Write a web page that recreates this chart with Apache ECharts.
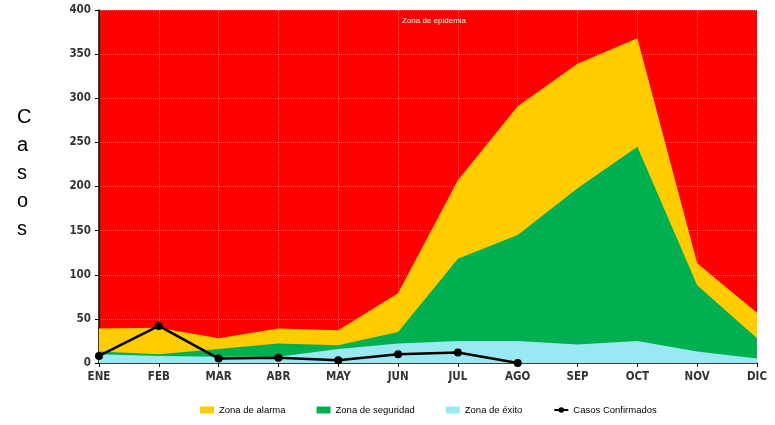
<!DOCTYPE html>
<html><head><meta charset="utf-8">
<script src="https://cdn.jsdelivr.net/npm/echarts@6/dist/echarts.min.js"></script>
<style>html,body{margin:0;padding:0;background:#fff}#c{width:775px;height:425px}</style>
</head><body><div id="c"></div>
<script>
var months = ['ENE','FEB','MAR','ABR','MAY','JUN','JUL','AGO','SEP','OCT','NOV','DIC'];
// Upper boundary of each zone (cumulative)
var zonaAlarma    = [39, 40, 28, 39, 37, 79, 207, 291, 339, 368, 113, 57];
var zonaSeguridad = [13, 10, 16, 22, 20, 35, 118, 145, 198, 245, 88, 28];
var zonaExito     = [10, 8, 7, 7, 16, 22, 25, 25, 21, 25, 13, 5];
var casosConfirmados = [8, 42, 5, 6, 3, 10, 12, 0, null, null, null, null];
var yTicks = [0, 50, 100, 150, 200, 250, 300, 350, 400];

var font = "'DejaVu Sans Condensed', 'Liberation Sans Narrow', 'Liberation Sans', Arial, sans-serif";
var chart = echarts.init(document.getElementById('c'));
chart.setOption({
  animation: false,
  grid: {left: 99, right: 18, top: 10, bottom: 62, show: true, backgroundColor: '#FF0000', borderWidth: 0},
  legend: {
    bottom: 5, left: 195, itemGap: 31, itemWidth: 14, itemHeight: 7, itemTextGap: 2,
    textStyle: {fontFamily: "'Liberation Sans', Arial, sans-serif", fontSize: 9.5, color: '#000'},
    data: [
      {name: 'Zona de alarma', icon: 'rect'},
      {name: 'Zona de seguridad', icon: 'rect'},
      {name: 'Zona de éxito', icon: 'rect'},
      {name: 'Casos Confirmados'}
    ]
  },
  graphic: [
    {type: 'text', left: 17, top: 103, style: {text: 'C\na\ns\no\ns', font: '20px ' + "'Liberation Sans', Arial, sans-serif", lineHeight: 28, fill: '#000', align: 'center'}},
    {type: 'text', left: 402, top: 17, style: {text: 'Zona de epidemia', font: '8px ' + "'Liberation Sans', Arial, sans-serif", fill: '#fff'}}
  ],
  xAxis: {
    type: 'category', data: months, boundaryGap: false,
    axisLine: {lineStyle: {color: '#000', width: 1.5}},
    axisTick: {show: true, length: 4, lineStyle: {color: '#000'}},
    axisLabel: {color: '#333', fontFamily: font, fontWeight: 'bold', fontSize: 11.5, margin: 8},
    splitLine: {show: true, lineStyle: {color: 'rgba(255,255,255,0.35)', type: 'dotted', width: 1}}
  },
  yAxis: {
    type: 'value', min: yTicks[0], max: yTicks[yTicks.length-1], interval: 50,
    axisLine: {show: true, lineStyle: {color: '#000', width: 1.5}},
    axisTick: {show: true, length: 4, lineStyle: {color: '#000'}},
    axisLabel: {color: '#333', fontFamily: font, fontWeight: 'bold', fontSize: 11.5, margin: 8},
    splitLine: {show: true, lineStyle: {color: 'rgba(255,255,255,0.35)', type: 'dotted', width: 1}}
  },
  series: [
    {name: 'Zona de alarma', type: 'line', data: zonaAlarma, symbol: 'none', lineStyle: {width: 0}, itemStyle: {color: '#FFCC00'}, areaStyle: {color: '#FFCC00', opacity: 1}},
    {name: 'Zona de seguridad', type: 'line', data: zonaSeguridad, symbol: 'none', lineStyle: {width: 0}, itemStyle: {color: '#00B050'}, areaStyle: {color: '#00B050', opacity: 1}},
    {name: 'Zona de éxito', type: 'line', data: zonaExito, symbol: 'none', lineStyle: {width: 0}, itemStyle: {color: '#99E9F2'}, areaStyle: {color: '#99E9F2', opacity: 1}},
    {name: 'Casos Confirmados', type: 'line', data: casosConfirmados, symbol: 'circle', symbolSize: 8, z: 5,
     lineStyle: {color: '#000', width: 2.5}, itemStyle: {color: '#000'}}
  ]
});
</script></body></html>
